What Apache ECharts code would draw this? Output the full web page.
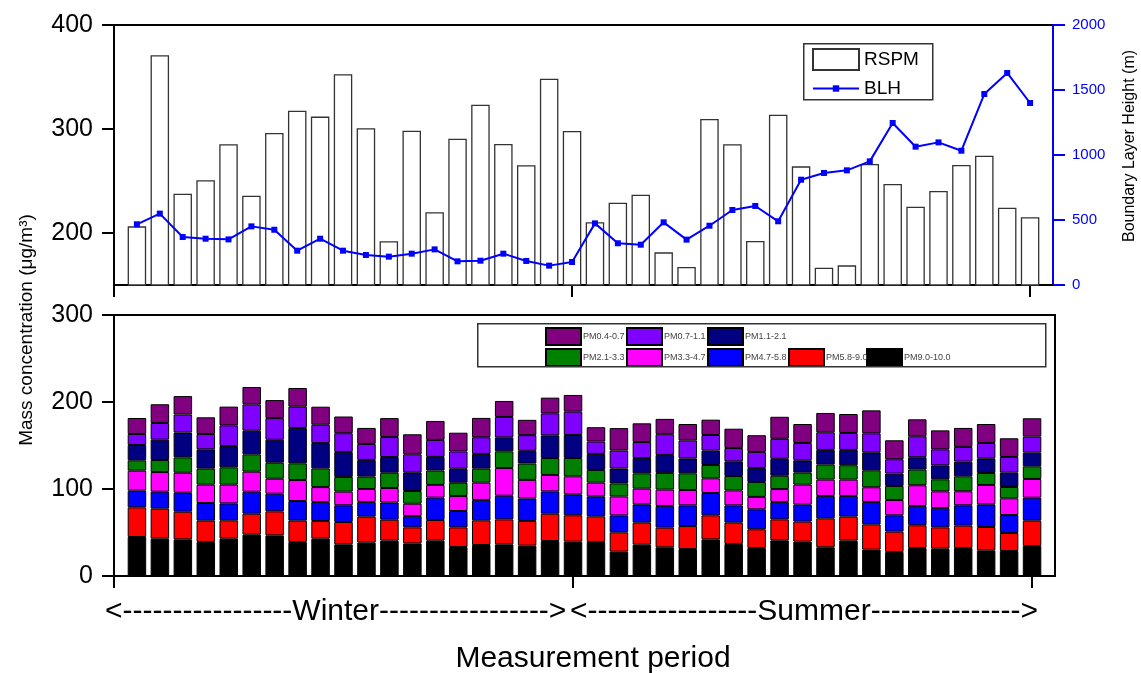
<!DOCTYPE html>
<html><head><meta charset="utf-8">
<script src="https://cdn.jsdelivr.net/npm/echarts@6/dist/echarts.min.js"></script>
<style>html,body{margin:0;padding:0;background:#fff}#c{width:1141px;height:673px}</style>
</head><body><div id="c"></div>
<script>
// ---- data ----
const samples = [1,2,3,4,5,6,7,8,9,10,11,12,13,14,15,16,17,18,19,20,21,22,23,24,25,26,27,28,29,30,31,32,33,34,35,36,37,38,39,40];
const rspm = [206.4,370.9,237.8,250.7,285.3,235.9,296.2,317.6,311.9,352.6,300.7,192.0,298.4,219.9,290.7,323.4,285.6,265.1,348.4,298.1,210.3,229.1,236.8,181.4,167.3,309.6,285.3,192.3,313.8,264.1,166.7,168.9,266.3,247.1,225.3,240.4,265.4,274.3,224.3,215.1];
const blh = [467,549,369,356,351,451,425,264,356,264,231,218,241,274,182,187,241,185,149,177,474,321,310,482,349,456,577,608,490,810,862,882,951,1246,1064,1097,1033,1469,1631,1400];
const pm9_10 = [44.8,42.9,42.1,39.1,42.9,47.5,46.7,39.1,42.9,36.4,38.3,40.6,37.5,40.6,33.3,35.6,36.4,34.9,40.2,39.5,39.1,28.0,36.0,33.0,31.0,42.1,36.8,32.2,41.0,39.5,33.0,40.6,30.3,27.6,32.2,31.4,32.2,29.5,28.7,34.5];
const pm58_9 = [34.1,34.5,31.8,24.5,21.1,24.1,27.6,24.5,20.3,25.7,29.9,24.1,18.4,23.8,22.6,28.4,28.7,28.4,31.4,30.3,29.5,22.2,25.3,22.6,26.4,27.6,24.5,21.5,24.1,23.0,33.3,27.6,29.1,23.4,26.1,24.5,25.7,26.8,20.7,29.1];
const pm47_58 = [19.2,19.5,21.8,20.3,19.5,25.3,20.3,22.6,21.8,19.2,16.9,19.9,13.0,25.7,18.8,23.4,27.2,25.7,25.7,24.1,23.0,19.5,21.1,24.9,23.8,25.7,19.9,23.0,19.9,19.5,25.7,23.8,25.7,18.8,22.2,22.2,23.4,26.1,20.7,26.4];
const pm33_47 = [23.0,22.6,23.0,21.1,21.5,23.0,17.2,24.1,17.2,15.7,14.9,16.5,14.2,14.6,17.2,19.9,31.8,21.5,18.8,20.7,15.7,21.8,18.0,18.8,17.6,16.9,17.2,14.2,14.9,23.0,18.8,18.8,16.9,17.6,23.8,19.2,16.1,22.2,19.2,21.5];
const pm21_33 = [11.9,13.8,17.6,18.4,19.9,19.9,18.4,19.2,21.5,16.9,14.2,17.6,14.6,16.5,15.3,16.1,19.2,18.8,19.5,21.1,14.6,14.9,17.6,19.2,19.2,15.3,16.5,17.2,15.3,13.8,17.2,16.5,19.5,16.1,18.0,13.8,17.2,13.8,13.0,14.6];
const pm11_21 = [17.6,23.4,28.7,22.2,24.5,27.2,26.4,40.6,29.1,28.7,19.2,18.0,21.5,15.7,16.1,16.9,16.1,14.6,26.1,26.4,18.4,17.2,17.6,20.7,17.2,16.5,16.9,16.1,19.5,14.2,16.9,17.6,20.7,14.2,14.2,16.1,16.9,16.9,16.5,15.7];
const pm07_11 = [12.6,19.2,20.7,17.6,23.8,30.3,24.9,24.5,21.1,21.5,18.4,23.0,20.7,19.5,19.9,19.2,23.4,18.0,25.3,26.8,14.2,20.7,18.4,23.8,20.7,18.0,15.3,18.4,23.0,19.9,20.3,19.5,21.8,16.5,24.1,18.4,16.9,17.6,18.0,18.4];
const pm04_07 = [18.4,21.5,21.1,19.2,21.5,19.9,20.7,21.5,20.7,19.2,18.4,21.8,23.0,21.8,21.5,22.2,18.4,17.6,18.0,19.2,16.5,25.7,21.5,17.6,18.8,17.6,22.2,19.2,25.3,21.8,22.2,21.8,26.4,21.8,19.5,21.8,21.8,21.8,21.5,21.1];
const pmNames = ['PM9.0-10.0','PM5.8-9.0','PM4.7-5.8','PM3.3-4.7','PM2.1-3.3','PM1.1-2.1','PM0.7-1.1','PM0.4-0.7'];
const rspmTicks = [200,300,400];
const winterLabel = '<-----------------Winter----------------->';
const summerLabel = '<-----------------Summer--------------->';

// ---- styling / layout ----
const FONT = 'Liberation Sans, Arial, sans-serif';
const pmData = [pm9_10, pm58_9, pm47_58, pm33_47, pm21_33, pm11_21, pm07_11, pm04_07];
const pmColors = ['#000000','#ff0000','#0000ff','#ff00ff','#008000','#000080','#8000ff','#800080'];
// axis slots: an empty slot before the first and after the last sample
const slots = [0, ...samples, samples.length + 1].map(String);
const pad = arr => ['-', ...arr, '-'];
const BW = 18.5;

const xAxisBase = (grid) => ({
  gridIndex: grid, type:'category', data:slots, boundaryGap:false,
  axisLine:{show:true, onZero:false, lineStyle:{color:'#000', width:2}},
  axisTick:{show:true, interval:19, length:12, lineStyle:{color:'#000', width:2}},
  axisLabel:{show:false}, splitLine:{show:false}
});

const legendPos = {
  'PM0.4-0.7':[545,327],'PM0.7-1.1':[626,327],'PM1.1-2.1':[707,327],
  'PM2.1-3.3':[545,348],'PM3.3-4.7':[626,348],'PM4.7-5.8':[707,348],'PM5.8-9.0':[788,348],'PM9.0-10.0':[866,348]
};
const pmLegends = pmNames.map(n => ({
  data:[{name:n, icon:'rect'}], left:legendPos[n][0], top:legendPos[n][1], padding:0,
  itemWidth:35, itemHeight:17, selectedMode:false,
  textStyle:{fontSize:9, fontFamily:FONT, color:'#444', padding:[0,0,0,-3]}
}));

const option = {
  animation:false,
  backgroundColor:'#fff',
  grid:[
    {left:114, top:25, width:939, height:260, show:true, borderColor:'#000', borderWidth:2, backgroundColor:'rgba(0,0,0,0)'},
    {left:114, top:315, width:941, height:261, show:true, borderColor:'#000', borderWidth:2, backgroundColor:'rgba(0,0,0,0)'}
  ],
  xAxis:[xAxisBase(0), xAxisBase(1)],
  yAxis:[
    {gridIndex:0, type:'value', min:150, max:400, position:'left',
     axisLine:{show:true, lineStyle:{color:'#000', width:2}},
     axisTick:{show:true, customValues:rspmTicks, length:12, lineStyle:{color:'#000', width:2}},
     axisLabel:{customValues:rspmTicks, fontSize:25, fontFamily:FONT, color:'#000', margin:21},
     splitLine:{show:false}},
    {gridIndex:0, type:'value', min:0, max:2000, interval:500, position:'right',
     axisLine:{show:true, lineStyle:{color:'#0000ff', width:2}},
     axisTick:{show:true, length:12, lineStyle:{color:'#0000ff', width:2}},
     axisLabel:{fontSize:15, fontFamily:FONT, color:'#0000ff', margin:19, formatter:v => String(v)},
     splitLine:{show:false}},
    {gridIndex:1, type:'value', min:0, max:300, interval:100, position:'left',
     axisLine:{show:true, lineStyle:{color:'#000', width:2}},
     axisTick:{show:true, length:12, lineStyle:{color:'#000', width:2}},
     axisLabel:{fontSize:25, fontFamily:FONT, color:'#000', margin:21},
     splitLine:{show:false}}
  ],
  legend:[
    {data:[{name:'RSPM', icon:'rect'}], left:812, top:48, padding:0, itemWidth:46, itemHeight:21, selectedMode:false,
     textStyle:{fontSize:19, fontFamily:FONT, color:'#000'}},
    {data:['BLH'], left:812, top:79, padding:0, itemWidth:46, itemHeight:8, selectedMode:false,
     textStyle:{fontSize:19, fontFamily:FONT, color:'#000'}},
    ...pmLegends
  ],
  graphic:[
    {type:'rect', left:803, top:43, shape:{width:129, height:56}, style:{fill:'rgba(0,0,0,0)', stroke:'#333', lineWidth:1.5}, z:100},
    {type:'rect', left:477, top:323, shape:{width:568, height:43}, style:{fill:'rgba(0,0,0,0)', stroke:'#333', lineWidth:1.5}, z:100},
    {type:'text', x:27, y:330, rotation:Math.PI/2, style:{text:'Mass concentration (μg/m³)', fontSize:19, fontFamily:FONT, fill:'#000', align:'center', verticalAlign:'middle'}},
    {type:'text', x:1130, y:146, rotation:Math.PI/2, style:{text:'Boundary Layer Height (m)', fontSize:16, fontFamily:FONT, fill:'#000', align:'center', verticalAlign:'middle'}},
    {type:'text', x:105, y:612, style:{text:winterLabel, fontSize:30, fontFamily:FONT, fill:'#000', align:'left', verticalAlign:'middle'}},
    {type:'text', x:570, y:612, style:{text:summerLabel, fontSize:30, fontFamily:FONT, fill:'#000', align:'left', verticalAlign:'middle'}},
    {type:'text', x:593, y:659, style:{text:'Measurement period', fontSize:30, fontFamily:FONT, fill:'#000', align:'center', verticalAlign:'middle'}}
  ],
  series:[
    {name:'RSPM', type:'bar', xAxisIndex:0, yAxisIndex:0, data:pad(rspm), barWidth:BW,
     itemStyle:{color:'#fff', borderColor:'#333', borderWidth:1.3}},
    {name:'BLH', type:'line', xAxisIndex:0, yAxisIndex:1, data:pad(blh), symbol:'rect', symbolSize:6,
     lineStyle:{color:'#0000ff', width:2}, itemStyle:{color:'#0000ff'}, z:5},
    ...pmNames.map((n,k)=>({
      name:n, type:'bar', stack:'pm', xAxisIndex:1, yAxisIndex:2, data:pad(pmData[k]), barWidth:BW,
      itemStyle:{color:pmColors[k], borderColor:'#000', borderWidth:1}
    }))
  ]
};
const chart = echarts.init(document.getElementById('c'));
chart.setOption(option);
</script>
</body></html>
